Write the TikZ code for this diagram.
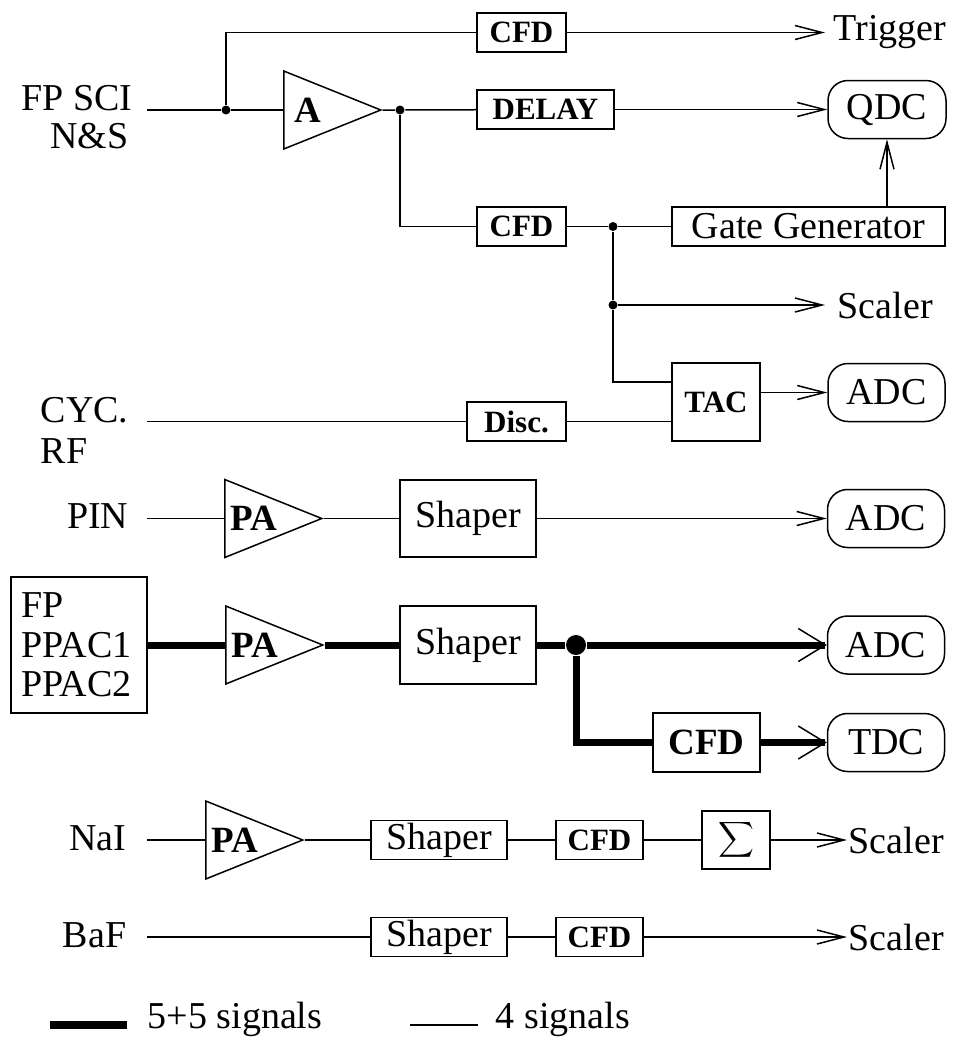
\documentclass[tikz,border=0pt]{standalone}
\usepackage{amsmath}
\usepackage{fontspec}
\setmainfont{Liberation Serif}
\usepackage{tikz}
\usetikzlibrary{arrows.meta,shapes.geometric}
\newcommand{\txtf}{\fontsize{38}{39.5}\selectfont}
\newcommand{\tagf}{\fontsize{31}{33}\selectfont\bfseries}
\newcommand{\ampf}{\fontsize{37}{39}\selectfont\bfseries}

\begin{document}
\begin{tikzpicture}[x=1pt,y=-1pt,line width=1.5pt,font=\txtf,
  >={Straight Barb[length=27pt,width=14pt]},
  box/.style 2 args={draw,inner sep=0,minimum width=#1,minimum height=#2},
  tagtxt/.style={font=\tagf},
  unitbox/.style={draw,rounded corners=20pt,inner sep=0,minimum width=117,minimum height=58},
  amp/.style={draw,isosceles triangle,isosceles triangle stretches,minimum width=78,minimum height=97,inner sep=0,anchor=lower side,font=\ampf},
  jdot/.style={circle,fill,inner sep=0,minimum size=9},
  lbl/.style={inner sep=0},
  thickline/.style={line width=7pt},
  medline/.style={line width=2.8pt},
  fatarrow/.style={->,>={Straight Barb[length=27pt,width=33pt,line width=1.5pt]}}]
  \useasboundingbox (0,0) rectangle (961,1045);

  \node[lbl,anchor=base east] (sci) at (133,110) {FP SCI};
  \node[lbl,anchor=base east] (ns) at (129,148) {N\&S};
  \coordinate (sciin) at (147,110);
  \node[amp] (a1) at (283,110) {A};
  \node[box={89}{39},tagtxt] (cfdt) at (521.5,32.5) {CFD};
  \node[lbl,anchor=west,inner xsep=8pt] (trig) at (825,32.5) {Trigger};
  \node[box={137}{39},tagtxt] (delay) at (545.5,109.5) {DELAY};
  \node[unitbox,minimum width=118] (qdc) at (887,109.5) {QDC};
  \node[box={89}{39},tagtxt] (cfdg) at (521.5,226.5) {CFD};
  \node[box={273}{39}] (gate) at (808.5,226.5) {Gate Generator};
  \node[lbl,anchor=west,inner xsep=12pt] (scl1) at (825,305) {Scaler};
  \node[box={88}{78},tagtxt] (tac) at (716,402) {TAC};
  \node[unitbox] (adc1) at (886.5,392.5) {ADC};
  \node[box={99}{39},tagtxt] (disc) at (516.5,421.5) {Disc.};
  \node[lbl,anchor=base west] (cyc) at (40,422) {CYC.};
  \node[lbl,anchor=base west] (rf) at (40,463) {RF};
  \coordinate (cycin) at (147,421.5);
  \foreach \n/\x/\y in {j1/226/110, j2/400/110, j3/613/226.5, j4/613/305}
    \node[jdot] (\n) at (\x,\y) {};

  \node[lbl,anchor=base east] (pin) at (129,528) {PIN};
  \coordinate (pinin) at (147,518.5);
  \node[amp] (pa1) at (224,518.5) {PA};
  \node[box={136}{77}] (shp1) at (468,518.5) {Shaper};
  \node[unitbox] (adc2) at (886,518.5) {ADC};

  \node[box={136}{136},align=left,text width=116] (fp) at (79,645) {FP\\PPAC1\\PPAC2};
  \node[amp] (pa2) at (225,645) {PA};
  \node[box={136}{78}] (shp2) at (468,645) {Shaper};
  \node[jdot,minimum size=20] (j5) at (576,645) {};
  \node[unitbox] (adc3) at (886,645) {ADC};
  \node[box={107}{59},font=\ampf] (cfdt2) at (706.5,742.5) {CFD};
  \node[unitbox] (tdc) at (886,742.5) {TDC};

  \node[lbl,anchor=base east] (nai) at (127,850) {NaI};
  \coordinate (naiin) at (147,840);
  \node[amp] (pa3) at (205,840) {PA};
  \node[box={136}{39}] (shp3) at (439,840) {Shaper};
  \node[box={87}{39},tagtxt] (cfd4) at (599.5,840) {CFD};
  \node[box={68}{58}] (sum) at (736,840) {$\displaystyle\sum$};
  \node[lbl,anchor=west,inner xsep=1pt] (scl2) at (847,840) {Scaler};

  \node[lbl,anchor=base east] (baf) at (127,947) {BaF};
  \coordinate (bafin) at (147,937);
  \node[box={136}{39}] (shp4) at (439,937) {Shaper};
  \node[box={87}{39},tagtxt] (cfd5) at (599.5,937) {CFD};
  \node[lbl,anchor=west,inner xsep=1pt] (scl3) at (847,937) {Scaler};

  \coordinate (lg1a) at (50,1025);
  \coordinate (lg1b) at (127,1025);
  \node[lbl,anchor=base west] (lg1) at (147,1028) {5+5 signals};
  \coordinate (lg2a) at (410,1025);
  \coordinate (lg2b) at (478,1025);
  \node[lbl,anchor=base west] (lg2) at (495,1028) {4 signals};

  \draw (sciin) -- (j1) -- (a1.lower side);
  \draw (j1) |- (cfdt);
  \draw[->] (cfdt) -- (trig);
  \draw (a1.apex) -- (j2) -- (delay);
  \draw[->] (delay) -- (qdc);
  \draw (j2) |- (cfdg);
  \draw (cfdg) -- (j3) -- (gate);
  \draw[->] (gate.north -| qdc) -- (qdc);
  \draw (j3) -- (j4) |- ([yshift=20pt]tac.west);
  \draw[->] (j4) -- (scl1);
  \draw (cycin) -- (disc);
  \draw (disc) -- (disc -| tac.west);
  \draw[->] (tac.east |- adc1) -- (adc1);

  \draw (pinin) -- (pa1.lower side);
  \draw (pa1.apex) -- (shp1);
  \draw[->] (shp1) -- (adc2);

  \draw[thickline] (fp) -- (pa2.lower side);
  \draw[thickline] (pa2.apex) -- (shp2) -- (j5);
  \draw[thickline,fatarrow] (j5) -- (adc3);
  \draw[thickline] (j5) |- (cfdt2);
  \draw[thickline,fatarrow] (cfdt2) -- (tdc);

  \draw[medline] (naiin) -- (pa3.lower side);
  \draw[medline] (pa3.apex) -- (shp3) -- (cfd4) -- (sum);
  \draw[->] (sum) -- (scl2);

  \draw (bafin) -- (shp4) -- (cfd5);
  \draw[->] (cfd5) -- (scl3);

  \draw[line width=8pt] (lg1a) -- (lg1b);
  \draw[medline] (lg2a) -- (lg2b);
\end{tikzpicture}
\end{document}
